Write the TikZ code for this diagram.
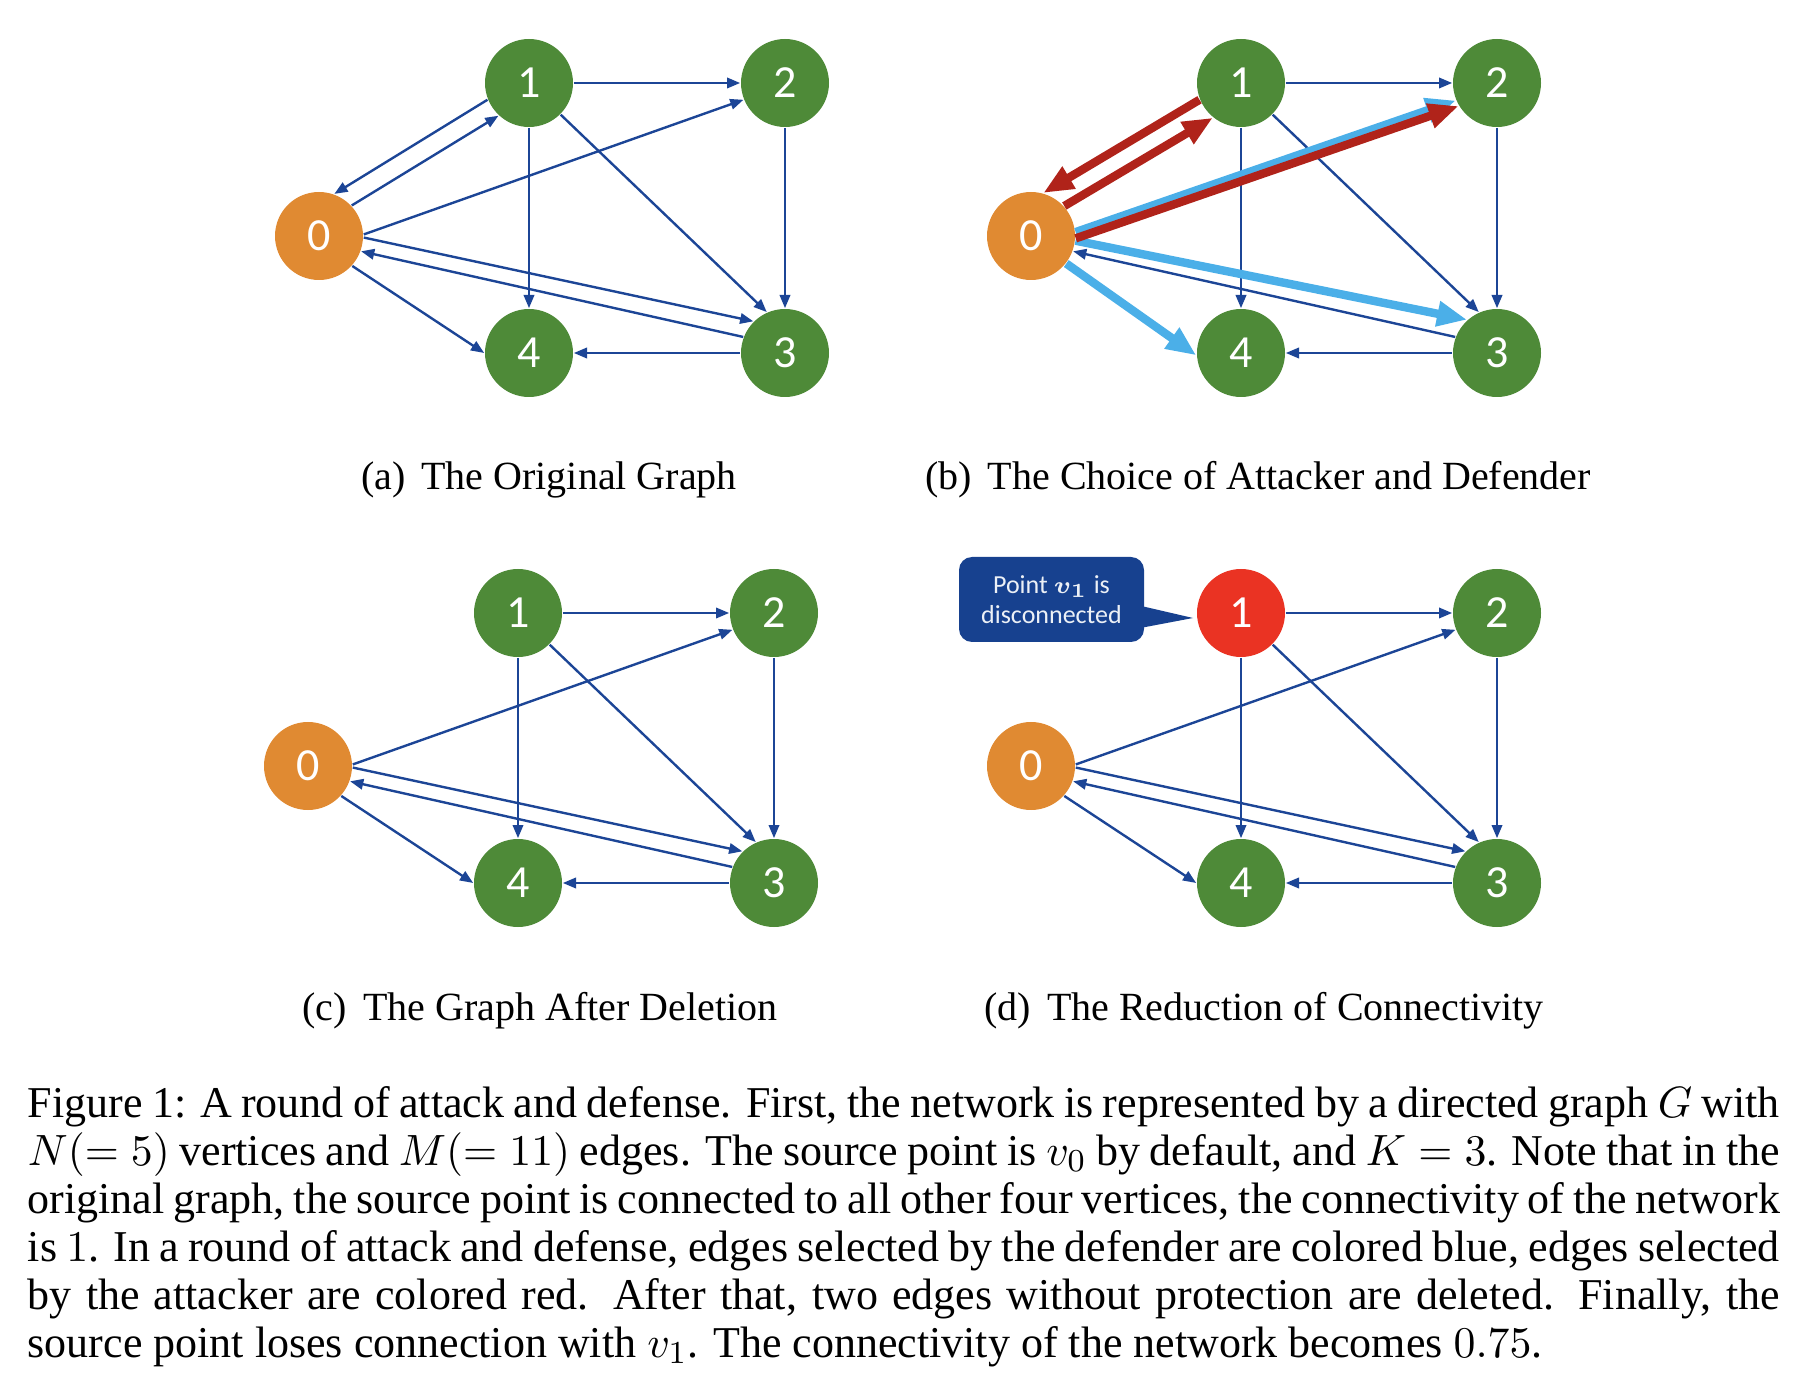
\documentclass[tikz,border=0pt]{standalone}
\usepackage[no-math]{fontspec}
\setmainfont{Liberation Serif}
\newfontfamily\nodefont{Carlito}
\usetikzlibrary{arrows.meta}
\definecolor{vgreen}{HTML}{4E8A38}
\definecolor{vorange}{HTML}{E08A32}
\definecolor{vred}{HTML}{EA3323}
\definecolor{eblue}{HTML}{1C4596}
\definecolor{ered}{HTML}{B0231A}
\definecolor{lblue}{HTML}{4BAFE8}
\definecolor{cblue}{HTML}{17418F}
\newcommand\gnodes[2]{%
  \node[vtx,fill=#2] (#1n1) at (529,83) {1};
  \node[vtx] (#1n2) at (785,83) {2};
  \node[vtx,fill=vorange] (#1n0) at (319,236) {0};
  \node[vtx] (#1n4) at (529,353) {4};
  \node[vtx] (#1n3) at (785,353) {3};
}
\newcommand\basethin[1]{%
  \draw[edg] (#1n1.east) -- (#1n2.west);
  \draw[edg] (#1n1.south) -- (#1n4.north);
  \draw[edg] (#1n1.315) -- (#1n3.114);
  \draw[edg] (#1n2.south) -- (#1n3.north);
  \draw[edg] (#1n3.159) -- (#1n0.340);
  \draw[edg] (#1n3.west) -- (#1n4.east);
}
\newcommand\srcthin[1]{%
  \draw[edg] (#1n0.2) -- (#1n2.202);
  \draw[edg] (#1n0.-2) -- (#1n3.135);
  \draw[edg] (#1n0.318) -- (#1n4.west);
}
\begin{document}
\begin{tikzpicture}[x=0.25pt,y=-0.25pt,
  vtx/.style={circle,fill=vgreen,minimum size=22pt,inner sep=0pt,text=white,
    font=\nodefont\fontsize{11.5}{11.5}\selectfont},
  edg/.style={draw=eblue,line width=0.6pt,-{Triangle[length=3.3pt,width=2.6pt]}},
  atk/.style={draw=ered,line width=2.1pt,-{Triangle[length=7.5pt,width=6pt]}},
  dfd/.style={draw=lblue,line width=2.1pt,-{Triangle[length=7.5pt,width=6pt]}},
  subcap/.style={inner sep=0pt,anchor=base,font=\fontsize{10}{12}\selectfont},
  capline/.style={inner sep=0pt,anchor=base west,font=\fontsize{11}{12}\selectfont},
  callbox/.style={fill=cblue,rounded corners=3.25pt,minimum width=46.25pt,
    minimum height=21.25pt,inner sep=0pt,align=center,text=white!92!cblue,
    font=\nodefont\fontsize{6.5}{7.5}\selectfont}]
\useasboundingbox (0,0) rectangle (1800,1400);

% (a)
\begin{scope}
  \gnodes{a}{vgreen}
  \basethin{a}
  \draw[edg] (an1.202) -- (an0.70);
  \draw[edg] (an0.43) -- (an1.227);
  \srcthin{a}
\end{scope}

% (b)
\begin{scope}[shift={(712,0)}]
  \gnodes{b}{vgreen}
  \basethin{b}
  \draw[atk] (bn1.202) -- (bn0.74);
  \draw[atk] (bn0.42) -- (bn1.231);
  \draw[dfd] (bn0.-6) -- (bn3.132);
  \draw[dfd] (bn0.-38) -- (bn4.183);
  \draw[dfd] (bn0.5) -- (bn2.203);
  \draw[atk] (bn0.-3) -- (bn2.211);
\end{scope}

% (c)
\begin{scope}[shift={(-11,530)}]
  \gnodes{c}{vgreen}
  \basethin{c}
  \srcthin{c}
\end{scope}

% (d)
\begin{scope}[shift={(712,530)}]
  \gnodes{d}{vred}
  \basethin{d}
  \srcthin{d}
\end{scope}

% callout
\node[callbox] (call) at (1051.5,599.5) {Point {\boldmath$v_1$} is\\disconnected};
\coordinate (ptip) at (1193,618);
\fill[cblue] ([xshift=-1pt,yshift=-1.6pt]call.east) -- (ptip) -- ([xshift=-1pt,yshift=-7.1pt]call.east) -- cycle;

% sub-captions
\node[subcap] (capa) at (549,490) {(a)\hspace{4pt}The Original Graph};
\node[subcap] (capb) at (1258,490) {(b)\hspace{4pt}The Choice of Attacker and Defender};
\node[subcap] (capc) at (540,1020) {(c)\hspace{4pt}The Graph After Deletion};
\node[subcap] (capd) at (1264,1020) {(d)\hspace{4pt}The Reduction of Connectivity};

% main caption
\node[capline] (l1) at (27,1117) {\makebox[438pt][s]{Figure 1: A round of attack and defense. First, the network is represented by a directed graph $G$ with}};
\node[capline] (l2) at (27,1165) {\makebox[438pt][s]{$N(=5)$ vertices and $M(=11)$ edges. The source point is $v_0$ by default, and $K=3$. Note that in the}};
\node[capline] (l3) at (27,1213) {\makebox[438pt][s]{original graph, the source point is connected to all other four vertices, the connectivity of the network}};
\node[capline] (l4) at (27,1261) {\makebox[438pt][s]{is $1$. In a round of attack and defense, edges selected by the defender are colored blue, edges selected}};
\node[capline] (l5) at (27,1309) {\makebox[438pt][s]{by the attacker are colored red. After that, two edges without protection are deleted. Finally, the}};
\node[capline] (l6) at (27,1357) {source point loses connection with $v_1$. The connectivity of the network becomes $0.75$.};
\end{tikzpicture}
\end{document}
